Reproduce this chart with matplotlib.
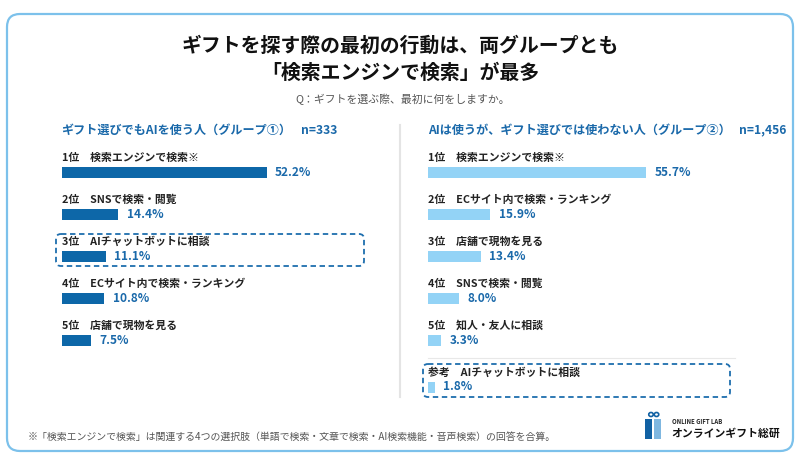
import numpy as np
import matplotlib
matplotlib.use("Agg")
import matplotlib.pyplot as plt
from matplotlib.patches import FancyBboxPatch, Rectangle, Ellipse

plt.rcParams['font.family'] = ['Noto Sans CJK JP', 'DejaVu Sans']

# data
title = "ギフトを探す際の最初の行動は、両グループとも\n「検索エンジンで検索」が最多"
question = "Q：ギフトを選ぶ際、最初に何をしますか。"

left_header = "ギフト選びでもAIを使う人（グループ①）"
left_n = "n=333"
left_ranks = ["1位", "2位", "3位", "4位", "5位"]
left_items = ["検索エンジンで検索※", "SNSで検索・閲覧", "AIチャットボットに相談",
              "ECサイト内で検索・ランキング", "店舗で現物を見る"]
left_values = [52.2, 14.4, 11.1, 10.8, 7.5]

right_header = "AIは使うが、ギフト選びでは使わない人（グループ②）"
right_n = "n=1,456"
right_ranks = ["1位", "2位", "3位", "4位", "5位", "参考"]
right_items = ["検索エンジンで検索※", "ECサイト内で検索・ランキング", "店舗で現物を見る",
               "SNSで検索・閲覧", "知人・友人に相談", "AIチャットボットに相談"]
right_values = [55.7, 15.9, 13.4, 8.0, 3.3, 1.8]

footnote = ("※「検索エンジンで検索」は関連する4つの選択肢（単語で検索・文章で検索・"
            "AI検索機能・音声検索）の回答を合算。")

DARK = "#0d67a8"
LIGHT = "#93d3f6"
TXT_BLUE = "#1a69aa"
INK = "#222222"

W, H = 800, 463
fig = plt.figure(figsize=(W / 100, H / 100), dpi=100)
fig.patch.set_facecolor("white")

# background axes in pixel coords
bg = fig.add_axes([0, 0, 1, 1])
bg.set_xlim(0, W)
bg.set_ylim(H, 0)
bg.axis("off")

bg.add_patch(FancyBboxPatch((7, 14), 786, 437, boxstyle="round,pad=0,rounding_size=13",
                            fc="white", ec="#7cc1eb", lw=1.6))

bg.text(400, 59, title, ha="center", va="center", fontsize=14.3, fontweight="bold",
        color="#111111", linespacing=1.35)
bg.text(403, 99, question, ha="center", va="center", fontsize=7.8, color="#555555")

bg.text(61, 130, left_header, ha="left", va="center", fontsize=8.7, fontweight="bold", color=TXT_BLUE)
bg.text(301, 130, left_n, ha="left", va="center", fontsize=8.7, fontweight="bold", color=TXT_BLUE)
bg.text(428, 130, right_header, ha="left", va="center", fontsize=8.7, fontweight="bold", color=TXT_BLUE)
bg.text(786, 130, right_n, ha="right", va="center", fontsize=8.7, fontweight="bold", color=TXT_BLUE)

# divider and thin separator
bg.plot([400, 400], [125, 397], color="#e4e4e4", lw=1.5)
bg.plot([428, 735], [358, 358], color="#e8e8e8", lw=0.8)

# dashed highlight boxes
for (x0, y0, x1, y1) in [(56, 234, 364, 266), (423, 364, 730, 397)]:
    bg.add_patch(FancyBboxPatch((x0, y0), x1 - x0, y1 - y0,
                                boxstyle="round,pad=0,rounding_size=5",
                                fc="none", ec="#1e6eae", lw=1.3, ls=(0, (3, 2))))

bg.text(28, 437, footnote, ha="left", va="center", fontsize=7.15, color="#555555")

# logo
bg.add_patch(Rectangle((645, 419), 7, 20, fc="#1161a3", ec="none"))
bg.add_patch(Rectangle((653.5, 419), 7, 20, fc="#7fb7e0", ec="none"))
bg.add_patch(Ellipse((651, 414.5), 4.5, 4, fc="none", ec="#1161a3", lw=1.2))
bg.add_patch(Ellipse((656.5, 414.5), 4.5, 4, fc="none", ec="#1161a3", lw=1.2))
bg.text(672, 422, "ONLINE GIFT LAB", ha="left", va="center", fontsize=4.3,
        fontweight="bold", color="#222222")
bg.text(671, 433.5, "オンラインギフト総研", ha="left", va="center", fontsize=7.8,
        fontweight="bold", color="#111111")

PX_PER_PCT = 3.92
ROW = 42.0
FIRST = 172.0


def bar_axes(x_px, ranks, items, values, color, extra_gap=0.0):
    top, bottom = 140.0, 405.0
    width_pct = 80
    ax = fig.add_axes([x_px / W, 1 - bottom / H, width_pct * PX_PER_PCT / W, (bottom - top) / H])
    ax.set_xlim(0, width_pct)
    ax.set_ylim((bottom - FIRST) / ROW, (top - FIRST) / ROW)
    ax.axis("off")
    ypos = np.arange(len(values), dtype=float)
    if extra_gap:
        ypos[5:] += extra_gap
    ax.barh(ypos, values, height=11 / ROW, color=color, edgecolor="none")
    for y, r, it, v in zip(ypos, ranks, items, values):
        ax.annotate(f"{r}　{it}", xy=(0, y), xytext=(0, 10.2), textcoords="offset points",
                    ha="left", va="center", fontsize=7.8, fontweight="bold", color=INK)
        ax.annotate(f"{v:.1f}%", xy=(v, y), xytext=(6, 0), textcoords="offset points",
                    ha="left", va="center", fontsize=8.6, fontweight="bold", color=TXT_BLUE)
    return ax


bar_axes(62, left_ranks, left_items, left_values, DARK)
bar_axes(428, right_ranks, right_items, right_values, LIGHT, extra_gap=5 / ROW)

fig.savefig("out.png", dpi=100)
